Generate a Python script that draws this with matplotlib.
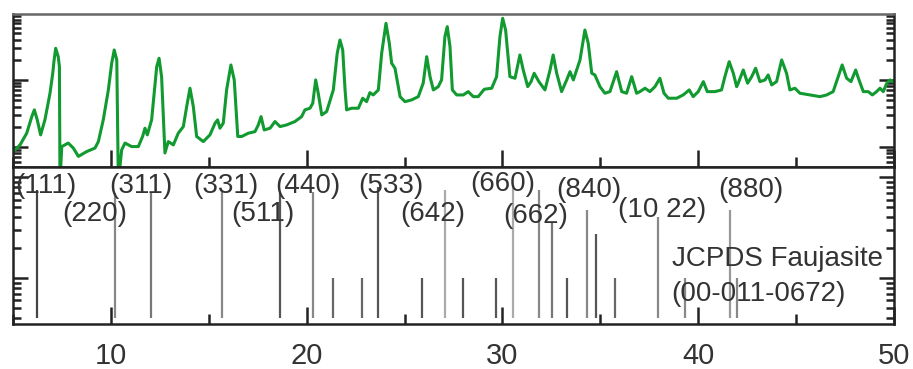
import matplotlib
matplotlib.use("Agg")
import matplotlib.pyplot as plt
from matplotlib.ticker import MultipleLocator, LogLocator, NullFormatter

plt.rcParams['font.family'] = ['Liberation Sans', 'DejaVu Sans']

two_theta = [5.10, 5.36, 5.70, 5.96, 6.09, 6.24, 6.41, 6.63, 6.89, 7.03, 7.09, 7.18, 7.31, 7.37,
             7.40, 7.49, 7.82, 8.08, 8.34, 8.76, 9.19, 9.36, 9.61, 9.87, 10.04, 10.17, 10.30,
             10.38, 10.55, 10.72, 11.06, 11.40, 11.62, 11.74, 11.86, 12.08, 12.34, 12.46, 12.59,
             12.76, 12.93, 13.19, 13.44, 13.70, 13.87, 14.04, 14.21, 14.38, 14.72, 15.06, 15.32,
             15.45, 15.57, 15.74, 15.91, 16.13, 16.30, 16.48, 16.68, 17.02, 17.36, 17.53, 17.67,
             17.83, 18.13, 18.38, 18.64, 18.98, 19.40, 19.74, 19.91, 20.17, 20.31, 20.46, 20.59,
             20.77, 21.02, 21.36, 21.56, 21.70, 21.84, 21.96, 22.04, 22.30, 22.64, 22.86, 23.06,
             23.23, 23.40, 23.66, 23.83, 24.05, 24.22, 24.34, 24.51, 24.77, 25.02, 25.36, 25.70,
             25.95, 26.13, 26.30, 26.47, 26.72, 26.89, 27.06, 27.18, 27.32, 27.44, 27.66, 28.00,
             28.25, 28.51, 28.76, 29.07, 29.45, 29.70, 29.87, 30.01, 30.16, 30.38, 30.64, 30.89,
             31.06, 31.29, 31.46, 31.62, 31.86, 32.17, 32.43, 32.59, 32.77, 33.02, 33.28, 33.45,
             33.62, 33.96, 34.21, 34.38, 34.56, 34.72, 34.98, 35.23, 35.49, 35.83, 36.09, 36.34,
             36.60, 36.85, 37.02, 37.28, 37.53, 37.79, 38.04, 38.25, 38.47, 38.90, 39.23, 39.54,
             39.74, 40.00, 40.26, 40.46, 40.85, 41.19, 41.36, 41.58, 41.79, 41.96, 42.04, 42.30,
             42.52, 42.73, 42.93, 43.15, 43.41, 43.57, 43.75, 44.00, 44.26, 44.51, 44.68, 44.94,
             45.19, 45.71, 46.22, 46.56, 46.89, 47.15, 47.35, 47.58, 47.80, 48.04, 48.21, 48.43,
             48.68, 48.89, 49.11, 49.28, 49.45, 49.63, 49.79, 50.00]
intensity = [90, 107, 160, 283, 357, 253, 151, 253, 633, 1259, 1875, 2972, 2228, 1580,
             30, 101, 114, 96, 72, 85, 96, 120, 253, 709, 1775, 2805, 1990,
             30, 90, 114, 101, 101, 143, 190, 151, 253, 1580, 2108, 1120,
             81, 120, 107, 160, 201, 399, 752, 399, 143, 120, 151, 226,
             253, 190, 226, 709, 1675, 1000, 143, 143, 160, 169, 213, 283,
             179, 190, 239, 201, 213, 239, 283, 357, 378, 449, 1000, 633,
             300, 337, 709, 2505, 3954, 2805, 709, 357, 378, 378, 533, 474,
             646, 597, 709, 2505, 7015, 3532, 1775, 1496, 563, 474, 503, 563,
             893, 2228, 1120, 709, 794, 1000, 4430, 6252, 3141, 709, 597, 597,
             669, 563, 563, 726, 752, 1120, 4430, 8337, 5572, 1120, 1059, 2361,
             1409, 794, 944, 1259, 944, 709, 1409, 2361, 1259, 669, 1000, 1330,
             1000, 1990, 5572, 3532, 1259, 1188, 794, 633, 669, 1330, 669, 633,
             1120, 633, 669, 752, 669, 794, 1059, 633, 533, 533, 597, 709,
             563, 669, 944, 669, 669, 709, 1120, 1875, 1259, 794, 893, 1409,
             893, 1120, 1496, 944, 1000, 1188, 842, 944, 1990, 1259, 709, 752,
             633, 597, 563, 597, 669, 1120, 1675, 1059, 944, 1409, 1000, 669,
             669, 597, 669, 752, 669, 893, 1000, 933]

# JCPDS Faujasite reference sticks
stick_pos = [6.21, 10.20, 12.05, 15.66, 18.63, 20.34, 21.33, 22.84, 23.66, 25.91, 27.06,
             27.97, 29.65, 30.52, 31.86, 32.51, 33.31, 34.30, 34.76, 35.75, 37.96, 39.32,
             41.62, 41.96]
stick_int = [7.4, 7.0, 7.1, 7.4, 6.9, 7.1, 1.0, 1.0, 8.0, 1.0, 7.4,
             1.0, 1.0, 8.3, 7.4, 3.5, 1.0, 4.7, 2.7, 1.0, 4.0, 1.0,
             4.7, 1.0]
stick_colors = ['#444444', '#888888', '#777777', '#888888', '#555555', '#888888', '#666666',
                '#666666', '#555555', '#555555', '#aaaaaa', '#555555', '#555555', '#aaaaaa',
                '#888888', '#777777', '#555555', '#888888', '#555555', '#666666', '#888888',
                '#888888', '#999999', '#888888']

# hkl labels
hkl_text = ['(111)', '(220)', '(311)', '(331)', '(511)', '(440)', '(533)', '(642)',
            '(660)', '(662)', '(840)', '(10 22)', '(880)']
hkl_x = [6.69, 9.19, 11.54, 15.86, 17.74, 20.04, 24.30, 26.42, 30.0, 31.7, 34.42, 38.17, 42.68]
hkl_y = [8.1, 4.3, 8.1, 8.1, 4.3, 8.1, 8.1, 4.3, 8.5, 4.1, 7.4, 4.77, 7.4]

fig = plt.figure(figsize=(9.13, 3.69), dpi=100)
ax1 = fig.add_axes([0.01424, 0.5474, 0.9650, 0.4146])
ax2 = fig.add_axes([0.01424, 0.1220, 0.9650, 0.4254])

frame = '#222222'
txt = '#333333'

ax1.plot(two_theta, intensity, color='#119a30', lw=2.2, solid_joinstyle='round')
ax1.set_yscale('log')
ax1.set_ylim(50, 9660)

ax2.vlines(stick_pos, 0.40, stick_int, colors=stick_colors, lw=1.6)
ax2.set_yscale('log')
ax2.set_ylim(0.35, 12.6)

for t, x, y in zip(hkl_text, hkl_x, hkl_y):
    ax2.text(x, y, t, ha='center', va='center', fontsize=20, color=txt)
ax2.text(38.64, 1.54, 'JCPDS Faujasite', ha='left', va='center', fontsize=20, color=txt)
ax2.text(38.64, 0.69, '(00-011-0672)', ha='left', va='center', fontsize=20, color=txt)

for ax in (ax1, ax2):
    ax.set_xlim(5, 50)
    ax.xaxis.set_major_locator(MultipleLocator(10))
    ax.xaxis.set_minor_locator(MultipleLocator(5))
    ax.yaxis.set_major_locator(LogLocator(base=10))
    ax.yaxis.set_minor_locator(LogLocator(base=10, subs=range(2, 10)))
    ax.yaxis.set_major_formatter(NullFormatter())
    ax.yaxis.set_minor_formatter(NullFormatter())
    ax.tick_params(axis='both', which='both', direction='in', color=frame, width=1.8,
                   top=False, right=True, left=True, bottom=True)
    ax.tick_params(axis='x', which='major', length=12)
    ax.tick_params(axis='x', which='minor', length=7)
    ax.tick_params(axis='y', which='major', length=11)
    ax.tick_params(axis='y', which='minor', length=6)
    for s in ax.spines.values():
        s.set_color(frame)
        s.set_linewidth(1.8)

ax1.spines['top'].set_color('#666666')
ax1.tick_params(axis='x', labelbottom=False)
ax2.tick_params(axis='x', labelsize=21, labelcolor=txt, pad=13)

fig.savefig('out.png', dpi=100)
